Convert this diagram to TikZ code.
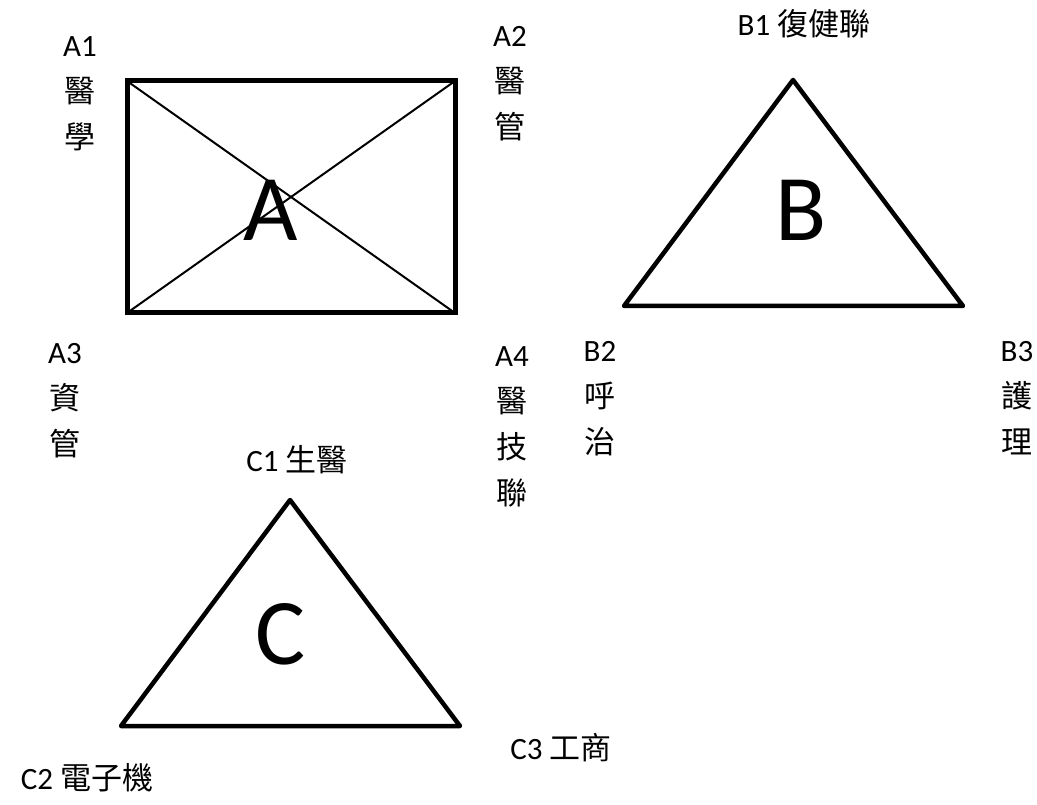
\documentclass[tikz,border=0pt]{standalone}
\usepackage{fontspec}
\setmainfont{Carlito}
\newfontfamily\cjk{Noto Sans CJK TC}
\usetikzlibrary{positioning}

\begin{document}
\begin{tikzpicture}[x=1pt,y=-1pt,
  lbl/.style={font=\fontsize{31}{46}\selectfont,align=center,inner sep=0pt},
  big/.style={font=\fontsize{94}{94}\selectfont,inner sep=0pt}]
 \useasboundingbox (0,0) rectangle (1037,805);
 % block A
 \coordinate (a1) at (127,81); \coordinate (a2) at (455,81);
 \coordinate (a3) at (127,313); \coordinate (a4) at (455,313);
 \draw[line width=2pt] (a1)--(a4) (a2)--(a3);
 \draw[line width=5pt] (a1)--(a2)--(a4)--(a3)--cycle;
 \node[big] (A) at (271,210) {A};
 \node[lbl] (lA1) at (80,94) {A1\\{\cjk 醫}\\{\cjk 學}};
 \node[lbl] (lA2) at (510,84) {A2\\{\cjk 醫}\\{\cjk 管}};
 \node[lbl] (lA3) at (65,401) {A3\\{\cjk 資}\\{\cjk 管}};
 \node[lbl] (lA4) at (512,427) {A4\\{\cjk 醫}\\{\cjk 技}\\{\cjk 聯}};
 % block B
 \coordinate (b1) at (793,80); \coordinate (b2) at (624,306); \coordinate (b3) at (963,306);
 \draw[line width=4.5pt,line join=round] (b1)--(b3)--(b2)--cycle;
 \node[big] (B) at (801,210) {B};
 \node[lbl] (lB1) at (804,24) {B1 {\cjk 復健聯}};
 \node[lbl] (lB2) at (600,399) {B2\\{\cjk 呼}\\{\cjk 治}};
 \node[lbl] (lB3) at (1017,398) {B3\\{\cjk 護}\\{\cjk 理}};
 % block C
 \coordinate (c1) at (290,500); \coordinate (c2) at (121,726); \coordinate (c3) at (460,726);
 \draw[line width=4.5pt,line join=round] (c1)--(c3)--(c2)--cycle;
 \node[big] (C) at (281,634) {C};
 \node[lbl] (lC1) at (297,460) {C1 {\cjk 生醫}};
 \node[lbl] (lC2) at (87,778) {C2 {\cjk 電子機}};
 \node[lbl] (lC3) at (561,748) {C3 {\cjk 工商}};
\end{tikzpicture}
\end{document}
